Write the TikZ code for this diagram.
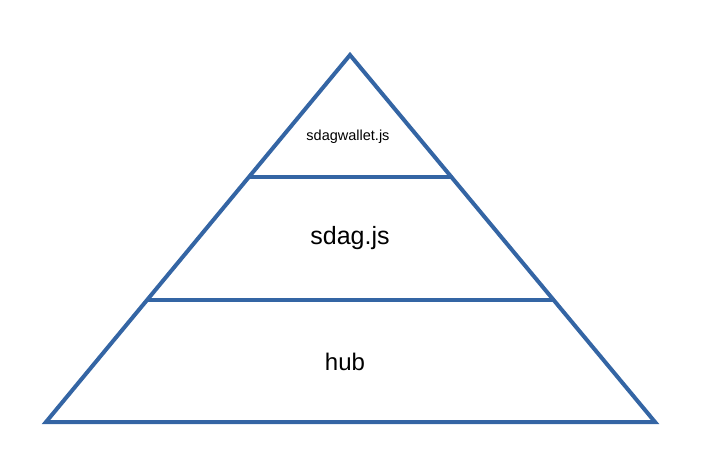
\documentclass[tikz,border=0pt]{standalone}
\usepackage{fontspec}
\setmainfont{Liberation Sans}
\definecolor{layerblue}{HTML}{3465A4}
\tikzset{
  edge/.style={draw=layerblue,line width=4pt},
  layer/.style={inner sep=0pt,font=\fontsize{24}{28}\selectfont}
}
\begin{document}
\begin{tikzpicture}[x=1pt,y=-1pt]
\useasboundingbox(0,0)rectangle(714,476);
\coordinate(top)at(350,55);
\coordinate(bl)at(46,422);
\coordinate(br)at(655,422);
% outline and the two dividing lines
\draw[edge](bl)--(top)--(br)--cycle;
\draw[edge](250,177)--(452,177);
\draw[edge](148,300)--(553,300);
% layer names
\node[layer,font=\fontsize{14.5}{17}\selectfont](wallet)at(348,137){sdagwallet.js};
\node[layer,font=\fontsize{25}{30}\selectfont](sdag)at(350,238){sdag.js};
\node[layer](hub)at(345,362){hub};
\end{tikzpicture}
\end{document}
